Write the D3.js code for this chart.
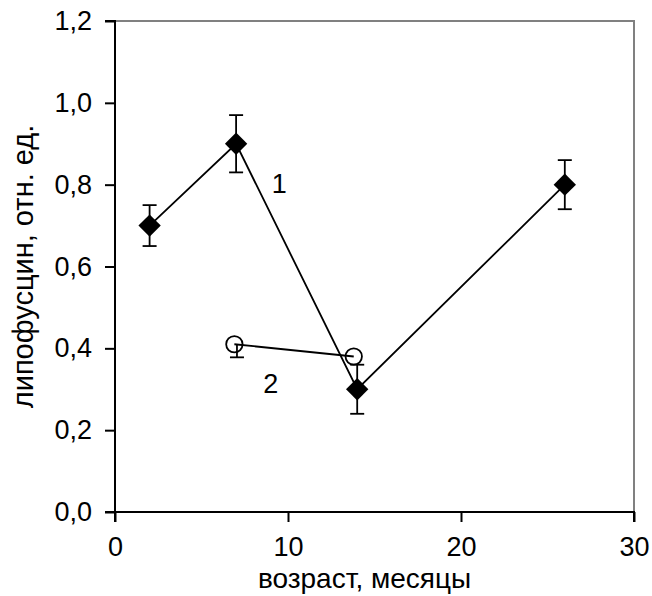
<!DOCTYPE html>
<html>
<head>
<meta charset="utf-8">
<script src="https://cdn.jsdelivr.net/npm/d3@7"></script>
<style>
  html, body { margin: 0; padding: 0; background: #fff; }
  svg { display: block; font-family: "Liberation Sans", Arial, sans-serif; }
</style>
</head>
<body>
<svg id="chart" width="652" height="596"></svg>
<script>
// Series 1: filled diamonds
const ages1 = [2, 7, 14, 26];
const values1 = [0.70, 0.90, 0.30, 0.80];
const errors1 = [0.05, 0.07, 0.06, 0.06];

// Series 2: open circles (only the lower whisker is drawn)
const ages2 = [6.9, 13.8];
const values2 = [0.41, 0.38];
const errorsLow2 = [0.032, 0];

const xTicks = [0, 10, 20, 30];
const yTicks = [0, 0.2, 0.4, 0.6, 0.8, 1.0, 1.2];

const seriesLabels = [
  { text: "1", x: 9.5, y: 0.78 },
  { text: "2", x: 9.0, y: 0.29 }
];

const svg = d3.select("#chart");
const plotLeft = 115, plotRight = 634, plotTop = 21, plotBottom = 512;

const x = d3.scaleLinear().domain([0, 30]).range([plotLeft, plotRight]);
const y = d3.scaleLinear().domain([0, 1.2]).range([plotBottom, plotTop]);

const fmt = d => d3.format(".1f")(d).replace(".", ",");

// top and right frame in grey
svg.append("path")
  .attr("d", `M${plotLeft},${plotTop}H${plotRight}V${plotBottom}`)
  .attr("fill", "none").attr("stroke", "#808080").attr("stroke-width", 2);

// y axis
const yAxis = svg.append("g").attr("transform", `translate(${plotLeft},0)`)
  .call(d3.axisLeft(y).tickValues(yTicks).tickFormat(fmt).tickSize(10).tickPadding(13));
// x axis
const xAxis = svg.append("g").attr("transform", `translate(0,${plotBottom})`)
  .call(d3.axisBottom(x).tickValues(xTicks).tickFormat(d3.format("d")).tickSize(10).tickPadding(26));

[yAxis, xAxis].forEach(g => {
  g.select(".domain").attr("stroke", "#000").attr("stroke-width", 2);
  g.selectAll(".tick line").attr("stroke", "#000").attr("stroke-width", 2);
  g.selectAll(".tick text").attr("fill", "#000").attr("font-size", 27)
    .attr("font-family", "Liberation Sans, Arial, sans-serif");
});
yAxis.select(".domain").attr("d", `M-10,${plotBottom}H0V${plotTop}H-10`);
xAxis.select(".domain").attr("d", `M${plotLeft},10V0H${plotRight}V10`);
xAxis.selectAll(".tick text").attr("dy", "0").attr("y", 44);

// axis titles
svg.append("text")
  .attr("x", (plotLeft + plotRight) / 2 - 10).attr("y", 588)
  .attr("text-anchor", "middle").attr("font-size", 28)
  .text("возраст, месяцы");

svg.append("text")
  .attr("transform", `translate(33,${(plotTop + plotBottom) / 2}) rotate(-90)`)
  .attr("text-anchor", "middle").attr("font-size", 29)
  .text("липофусцин, отн. ед.");

const line = d3.line().x(d => x(d[0])).y(d => y(d[1]));
const pts1 = ages1.map((a, i) => [a, values1[i]]);
const pts2 = ages2.map((a, i) => [a, values2[i]]);

svg.append("path").attr("d", line(pts1))
  .attr("fill", "none").attr("stroke", "#000").attr("stroke-width", 1.8);
svg.append("path").attr("d", line(pts2))
  .attr("fill", "none").attr("stroke", "#000").attr("stroke-width", 1.8);

// error bars
function errorBar(cx, lo, hi, caps) {
  const g = svg.append("g").attr("stroke", "#000").attr("stroke-width", 1.8);
  g.append("line").attr("x1", x(cx)).attr("x2", x(cx)).attr("y1", y(lo)).attr("y2", y(hi));
  caps.forEach(v => {
    g.append("line").attr("x1", x(cx) - 7).attr("x2", x(cx) + 7).attr("y1", y(v)).attr("y2", y(v));
  });
}
ages1.forEach((a, i) => {
  const lo = values1[i] - errors1[i], hi = values1[i] + errors1[i];
  errorBar(a, lo, hi, [lo, hi]);
});
ages2.forEach((a, i) => {
  if (errorsLow2[i] <= 0) return;
  const lo = values2[i] - errorsLow2[i];
  errorBar(a + 0.15, lo, values2[i], [lo]);
});

// markers: diamonds (rotated squares) and open circles
svg.append("g").selectAll("path").data(pts1).join("path")
  .attr("transform", d => `translate(${x(d[0])},${y(d[1])}) rotate(45)`)
  .attr("d", d3.symbol().type(d3.symbolSquare).size(250))
  .attr("fill", "#000");

svg.append("g").selectAll("circle").data(pts2).join("circle")
  .attr("cx", d => x(d[0])).attr("cy", d => y(d[1])).attr("r", 8.2)
  .attr("fill", "none").attr("stroke", "#000").attr("stroke-width", 1.8);

// series labels
svg.append("g").selectAll("text").data(seriesLabels).join("text")
  .attr("x", d => x(d.x)).attr("y", d => y(d.y))
  .attr("text-anchor", "middle").attr("font-size", 27)
  .text(d => d.text);
</script>
</body>
</html>
